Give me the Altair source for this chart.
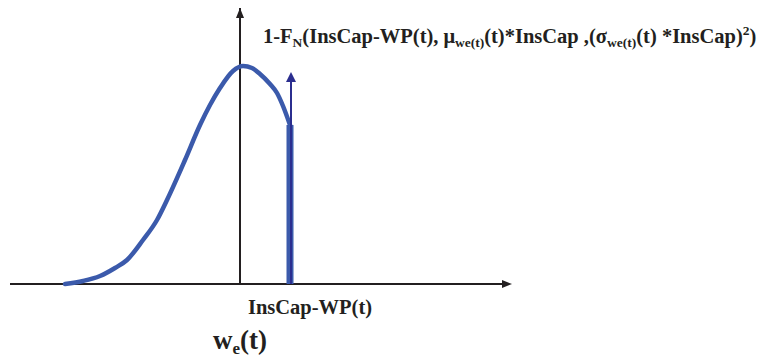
import altair as alt
import pandas as pd

# ---------------- data (diagram units: origin at the axes crossing, 1 unit = 1 px) ----------
curve_x = [-175, -157, -140, -125, -113, -97, -83, -73, -55, -40, -30, -20, -7, 3, 12, 20, 30, 37, 43, 50]
curve_y = [0, 3, 8, 16, 24, 44, 64, 84, 124, 159, 179, 196, 213, 218, 216, 210, 200, 191, 178, 159]

cut_x = 50          # InsCap-WP(t)
cut_y = 159         # height of the density at the cut
arrow_top = 212     # tip of the probability-mass arrow

x_axis_from, x_axis_to = -230, 262
y_axis_to = 277

top_runs = [("1-F", "main"), ("N", "sub"), ("(InsCap-WP(t), μ", "main"), ("we(t)", "sub"),
            ("(t)*InsCap ,(σ", "main"), ("we(t)", "sub"), ("(t) *InsCap)", "main"),
            ("2", "sup"), (")", "main")]
bottom_label = "InsCap-WP(t)"
xlabel_runs = [("w", "big"), ("e", "bigsub"), ("(t)", "big")]

# ---------------- helpers ----------------
FONT = "Liberation Serif, Times New Roman, Times, DejaVu Serif, serif"
INK = "#231f20"
BLUE = "#3b5aab"
NAVY = "#2b2e8f"

# Times/Liberation Serif Bold advance widths (per 1000 em)
WID = {'1': 500, '-': 333, 'F': 611, 'N': 722, '(': 333, ')': 333, 'I': 389, 'n': 556, 's': 389,
       'C': 722, 'a': 500, 'p': 556, 'W': 1000, 'P': 611, 't': 333, ',': 250, ' ': 250, 'w': 722,
       'e': 444, '*': 500, '2': 500, 'μ': 556, 'σ': 550}


def width(s, size):
    return sum(WID.get(c, 500) for c in s) * size / 1000.0


def layout(runs, x_start, base, styles):
    rows = []
    x = x_start
    for txt, kind in runs:
        size, dy = styles[kind]
        rows.append({"x": x, "y": base + dy, "t": txt, "s": size})
        x += width(txt, size)
    return rows


styles_top = {"main": (20.5, 0), "sub": (13.5, -4), "sup": (13.5, 8)}
styles_big = {"big": (27, 0), "bigsub": (17, -5)}

text_rows = layout(top_runs, 23, 241, styles_top)
text_rows += layout(xlabel_runs, -27, -65, styles_big)
text_df = pd.DataFrame(text_rows)

XS = alt.Scale(domain=[-232, 520], nice=False, zero=False)
YS = alt.Scale(domain=[-73, 276], nice=False, zero=False)

# ---------------- layers ----------------
axes_df = pd.DataFrame({"x": [x_axis_from, 0], "x2": [x_axis_to, 0],
                        "y": [0, 0], "y2": [0, y_axis_to]})
axes = alt.Chart(axes_df).mark_rule(color=INK, strokeWidth=2).encode(
    x=alt.X("x:Q", scale=XS, axis=None), x2="x2:Q",
    y=alt.Y("y:Q", scale=YS, axis=None), y2="y2:Q")

head_up = alt.Chart(pd.DataFrame({"x": [0], "y": [271]})).mark_point(
    shape="M0,-1L-0.8,1L0.8,1Z", filled=True, size=100, color=INK, opacity=1, strokeWidth=0
).encode(x=alt.X("x:Q", scale=XS, axis=None), y=alt.Y("y:Q", scale=YS, axis=None))

head_right = alt.Chart(pd.DataFrame({"x": [x_axis_to + 5], "y": [0]})).mark_point(
    shape="M1,0L-1,-0.8L-1,0.8Z", filled=True, size=100, color=INK, opacity=1, strokeWidth=0
).encode(x=alt.X("x:Q", scale=XS, axis=None), y=alt.Y("y:Q", scale=YS, axis=None))

curve = alt.Chart(pd.DataFrame({"x": curve_x, "y": curve_y})).mark_line(
    color=BLUE, strokeWidth=4.5, interpolate="monotone", strokeCap="round"
).encode(x=alt.X("x:Q", scale=XS, axis=None), y=alt.Y("y:Q", scale=YS, axis=None))

bar = alt.Chart(pd.DataFrame({"x": [cut_x], "y": [0], "y2": [cut_y]})).mark_rule(
    color=BLUE, strokeWidth=7
).encode(x=alt.X("x:Q", scale=XS, axis=None), y=alt.Y("y:Q", scale=YS, axis=None), y2="y2:Q")

arrow = alt.Chart(pd.DataFrame({"x": [cut_x + 1], "y": [0], "y2": [arrow_top - 9]})).mark_rule(
    color=NAVY, strokeWidth=2
).encode(x=alt.X("x:Q", scale=XS, axis=None), y=alt.Y("y:Q", scale=YS, axis=None), y2="y2:Q")

arrow_head = alt.Chart(pd.DataFrame({"x": [cut_x + 1], "y": [arrow_top - 5]})).mark_point(
    shape="M0,-1L-1,1L1,1Z", filled=True, size=100, color=NAVY, opacity=1, strokeWidth=0
).encode(x=alt.X("x:Q", scale=XS, axis=None), y=alt.Y("y:Q", scale=YS, axis=None))

texts = alt.Chart(text_df).mark_text(
    align="left", baseline="alphabetic", font=FONT, fontWeight="bold", color=INK
).encode(x=alt.X("x:Q", scale=XS, axis=None), y=alt.Y("y:Q", scale=YS, axis=None),
         text="t:N", size=alt.Size("s:Q", scale=None, legend=None))

cut_label = alt.Chart(pd.DataFrame({"x": [cut_x + 20], "y": [-30], "t": [bottom_label]})).mark_text(
    align="center", baseline="alphabetic", font=FONT, fontWeight="bold", fontSize=20.5, color=INK
).encode(x=alt.X("x:Q", scale=XS, axis=None), y=alt.Y("y:Q", scale=YS, axis=None), text="t:N")

chart = alt.layer(axes, head_up, head_right, curve, bar, arrow, arrow_head, texts, cut_label).properties(
    width=752, height=349, padding=0, autosize=alt.AutoSizeParams(type="none")
).configure_view(stroke=None)

chart.save("out.html", embed_options={"renderer": "svg", "actions": False})
